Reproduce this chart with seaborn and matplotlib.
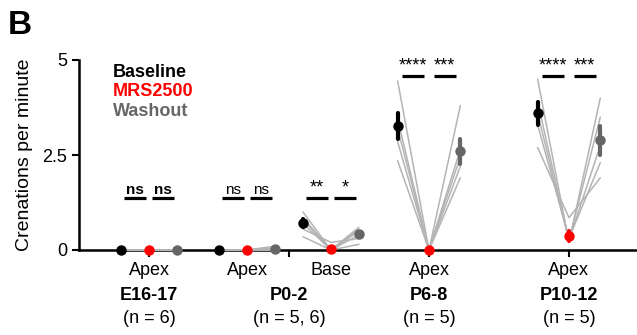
import numpy as np
import pandas as pd
import matplotlib
matplotlib.use("Agg")
import matplotlib.pyplot as plt
import seaborn as sns

# crenations per minute, one entry per cochlea
conditions = ["Baseline", "MRS2500", "Washout"]
cond_colors = ["#000000", "#ff0000", "#666666"]

e16_baseline = [0, 0, 0, 0, 0, 0]
e16_mrs = [0, 0, 0, 0, 0, 0]
e16_washout = [0, 0, 0, 0, 0, 0]

p0_apex_baseline = [0, 0, 0, 0, 0]
p0_apex_mrs = [0, 0, 0, 0, 0]
p0_apex_washout = [0.1, 0.05, 0, 0, 0]

p0_base_baseline = [1.0, 0.85, 0.8, 0.7, 0.55, 0.35]
p0_base_mrs = [0, 0, 0, 0, 0.2, 0]
p0_base_washout = [0.6, 0.55, 0.5, 0.4, 0.3, 0.15]

p6_baseline = [4.45, 3.45, 3.2, 2.85, 2.35]
p6_mrs = [0, 0, 0, 0, 0]
p6_washout = [3.8, 2.65, 2.45, 2.2, 1.9]

p10_baseline = [4.5, 3.9, 3.6, 3.3, 2.7]
p10_mrs = [0.2, 0.25, 0.25, 0.3, 0.85]
p10_washout = [4.0, 3.5, 2.75, 2.3, 1.9]

groups = [
    (e16_baseline, e16_mrs, e16_washout),
    (p0_apex_baseline, p0_apex_mrs, p0_apex_washout),
    (p0_base_baseline, p0_base_mrs, p0_base_washout),
    (p6_baseline, p6_mrs, p6_washout),
    (p10_baseline, p10_mrs, p10_washout),
]
region_labels = ["Apex", "Apex", "Base", "Apex", "Apex"]
age_labels = ["E16-17", "P0-2", "P6-8", "P10-12"]
n_labels = ["(n = 6)", "(n = 5, 6)", "(n = 5)", "(n = 5)"]
sig_labels = [("ns", "ns"), ("ns", "ns"), ("**", "*"), ("****", "***"), ("****", "***")]
sig_bold = [True, False, False, False, False]

# layout
centers = [2.5, 6, 9, 12.5, 17.5]
spacing = [1, 1, 1, 1.12, 1.12]
age_ticks = [2.5, 7.5, 12.5, 17.5]
sig_y = [1.37, 1.37, 1.37, 4.58, 4.58]

rows = []
for gi, grp in enumerate(groups):
    for ci, vals in enumerate(grp):
        for si, v in enumerate(vals):
            rows.append({"x": centers[gi] + (ci - 1) * spacing[gi],
                         "condition": conditions[ci],
                         "unit": f"{gi}-{si}",
                         "value": v})
df = pd.DataFrame(rows)

sns.set_style("ticks")
plt.rcParams["font.family"] = ["Liberation Sans", "DejaVu Sans"]
plt.rcParams["text.color"] = "black"
plt.rcParams["axes.labelcolor"] = "black"
plt.rcParams["xtick.color"] = "black"
plt.rcParams["ytick.color"] = "black"

fig = plt.figure(figsize=(6.37, 3.35), dpi=100)
ax = fig.add_axes([79 / 637, 85 / 335, 558 / 637, 190 / 335])

sns.lineplot(data=df, x="x", y="value", units="unit", estimator=None,
             color="#b4b4b4", linewidth=1.1, legend=False, ax=ax, zorder=3)
n_lines = len(ax.lines)
sns.pointplot(data=df, x="x", y="value", hue="condition", hue_order=conditions,
              palette=cond_colors, native_scale=True, errorbar="se",
              linestyle="none", marker="o", markersize=7.5, markeredgewidth=0,
              err_kws={"linewidth": 3}, legend=False, ax=ax)
for ln in ax.lines:
    ln.set_clip_on(False)
for ln in ax.lines[n_lines:]:
    ln.set_zorder(5)
for c in ax.collections:
    c.set_clip_on(False)
    c.set_zorder(5)

ax.set_xlim(0, 19.93)
ax.set_ylim(0, 5)
ax.set_yticks([0, 2.5, 5])
ax.set_yticklabels(["0", "2.5", "5"], fontsize=13)
ax.set_xticks(age_ticks)
ax.set_xticklabels([])
ax.tick_params(width=1.5, length=5, color="black", labelcolor="black")
ax.set_xlabel("")
ax.set_ylabel("Crenations per minute", fontsize=14, color="black")
ax.yaxis.set_label_coords(-0.083, 0.5)
sns.despine(ax=ax)
for s in ["left", "bottom"]:
    ax.spines[s].set_linewidth(1.8)
    ax.spines[s].set_color("black")

# significance bars
half = 0.39
for gi in range(len(groups)):
    for k in range(2):
        mid = centers[gi] + (k - 0.5) * spacing[gi]
        ax.plot([mid - half, mid + half], [sig_y[gi], sig_y[gi]], color="black",
                lw=2.3, solid_capstyle="butt", clip_on=False)
        ax.annotate(sig_labels[gi][k], (mid, sig_y[gi]), xytext=(0, 1),
                    textcoords="offset points", ha="center", va="bottom",
                    fontsize=11 if "n" in sig_labels[gi][k] else 13,
                    fontweight="bold" if sig_bold[gi] else "normal")

# condition key
for ci, (name, col) in enumerate(zip(conditions, cond_colors)):
    ax.text(1.21, 4.68 - ci * 0.52, name, color=col, fontsize=13,
            fontweight="bold", va="center", ha="left")

# x labels
xt = ax.get_xaxis_transform()
for x, lab in zip(centers, region_labels):
    ax.annotate(lab, (x, 0), xycoords=xt, xytext=(0, -15), textcoords="offset points",
                ha="center", va="center", fontsize=13)
for x, age, n in zip(age_ticks, age_labels, n_labels):
    ax.annotate(age, (x, 0), xycoords=xt, xytext=(0, -32.5), textcoords="offset points",
                ha="center", va="center", fontsize=13, fontweight="bold")
    ax.annotate(n, (x, 0), xycoords=xt, xytext=(0, -49), textcoords="offset points",
                ha="center", va="center", fontsize=13)

fig.text(8 / 637, 1 - 25 / 335, "B", fontsize=24, fontweight="bold", va="center", ha="left")

fig.savefig("out.png", dpi=100)
